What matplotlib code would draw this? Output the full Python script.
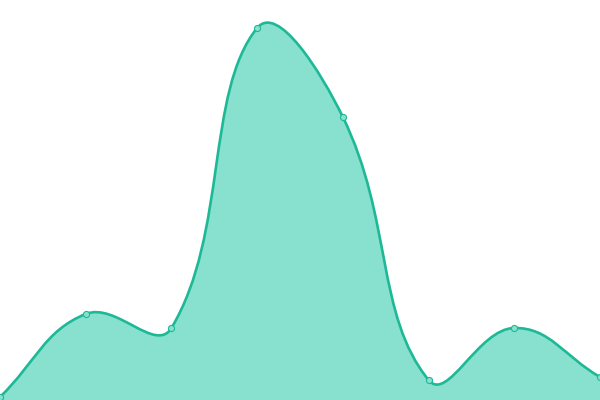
import numpy as np
import matplotlib
matplotlib.use('Agg')
import matplotlib.pyplot as plt
from matplotlib.path import Path
from matplotlib.patches import PathPatch

# --- Data ---
categories = ['A', 'B', 'C', 'D', 'E', 'F', 'G', 'H']
values = [3, 86, 72, 372, 283, 20, 72, 23]

line_color = '#1DB996'
fill_color = '#88E0CF'

# --- Figure ---
fig = plt.figure(figsize=(6, 4), dpi=100)
ax = fig.add_axes([0, 0, 1, 1])
ax.set_xlim(0, len(categories) - 1)
ax.set_ylim(0, 400)
ax.axis('off')

xs = np.arange(len(categories), dtype=float)
ys = np.array(values, dtype=float)

# smooth bezier (echarts-style), lengths measured in pixel space
sx = 600 / (len(categories) - 1)
smooth = 0.42
n = len(xs)
cp_in = []
cp_out = []
for i in range(n):
    p = max(i - 1, 0)
    q = min(i + 1, n - 1)
    vx = xs[q] - xs[p]
    vy = ys[q] - ys[p]
    d0 = np.hypot((xs[i] - xs[p]) * sx, ys[i] - ys[p])
    d1 = np.hypot((xs[q] - xs[i]) * sx, ys[q] - ys[i])
    r = d1 / (d0 + d1) if d0 + d1 > 0 else 0.5
    cp_in.append((xs[i] - vx * smooth * (1 - r), ys[i] - vy * smooth * (1 - r)))
    cp_out.append((xs[i] + vx * smooth * r, ys[i] + vy * smooth * r))

verts = [(xs[0], ys[0])]
codes = [Path.MOVETO]
for i in range(n - 1):
    verts += [cp_out[i], cp_in[i + 1], (xs[i + 1], ys[i + 1])]
    codes += [Path.CURVE4] * 3

line_path = Path(verts, codes)
fill_path = Path(verts + [(xs[-1], 0), (xs[0], 0), (xs[0], ys[0])],
                 codes + [Path.LINETO, Path.LINETO, Path.CLOSEPOLY])

ax.add_patch(PathPatch(fill_path, facecolor=fill_color, edgecolor='none'))
ax.add_patch(PathPatch(line_path, facecolor='none', edgecolor=line_color, linewidth=1.9))
ax.plot(xs, ys, linestyle='none', marker='o', markersize=4.4,
        markerfacecolor=fill_color, markeredgecolor=line_color, markeredgewidth=0.8)

fig.savefig('out.png', dpi=100)
